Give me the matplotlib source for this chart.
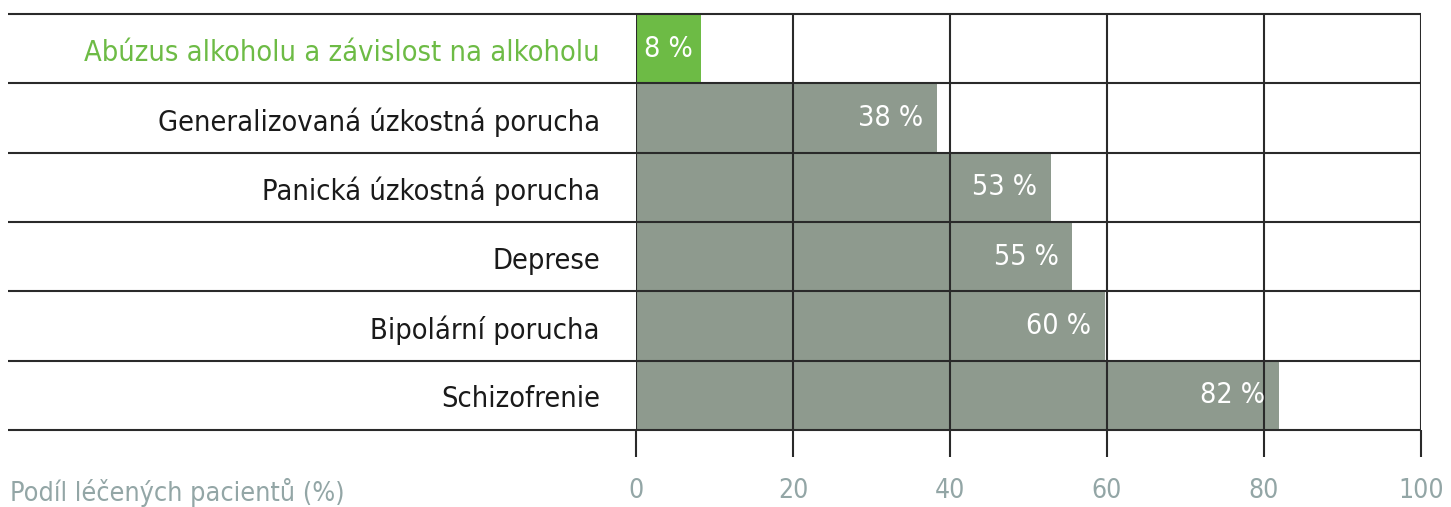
import matplotlib
matplotlib.use("Agg")
import matplotlib.pyplot as plt

categories = ["Abúzus alkoholu a závislost na alkoholu",
              "Generalizovaná úzkostná porucha",
              "Panická úzkostná porucha",
              "Deprese",
              "Bipolární porucha",
              "Schizofrenie"]
values = [8.3, 38.3, 52.9, 55.6, 59.8, 81.9]
value_labels = ["8 %", "38 %", "53 %", "55 %", "60 %", "82 %"]
xticks = [0, 20, 40, 60, 80, 100]
xlabel = "Podíl léčených pacientů (%)"

plt.rcParams['font.family'] = ['DejaVu Sans']
plt.rcParams['font.stretch'] = 'condensed'

W, H = 1451, 507
fig = plt.figure(figsize=(W/100, H/100), dpi=100)
x0, x1, y0, y1 = 636, 1421, 14, 430
ax = fig.add_axes([x0/W, 1-y1/H, (x1-x0)/W, (y1-y0)/H])

green = "#6dbb45"
grey = "#8e9a8e"
tickcol = "#93a6a6"
linecol = "#2a2a2a"

n = len(categories)
ypos = list(range(n))
colors = [green] + [grey]*(n-1)
ax.barh(ypos, values, height=1.0, color=colors, zorder=1)
ax.set_ylim(n-0.5, -0.5)
ax.set_xlim(0, 100)

for t in xticks:
    ax.axvline(t, color=linecol, lw=1.5, zorder=3)
trans = ax.get_yaxis_transform()
xleft = -(x0-8)/(x1-x0)
for k in range(n+1):
    ax.plot([xleft, 1.0], [k-0.5, k-0.5], transform=trans, color=linecol,
            lw=1.5, clip_on=False, zorder=3, solid_capstyle='butt')

for s in ax.spines.values():
    s.set_visible(False)
ax.set_yticks([])
ax.set_xticks(xticks)
ax.set_xticklabels([str(t) for t in xticks], fontsize=19, color=tickcol)
ax.tick_params(axis='x', length=19.5, width=1.5, color=linecol, pad=15, direction='out')

for i, c in enumerate(categories):
    ax.text(-(x0-600)/(x1-x0)*100, i + 0.06, c, ha='right', va='center', fontsize=20.8,
            color=green if i == 0 else "#1a1a1a")

for i, (v, lab) in enumerate(zip(values, value_labels)):
    off = -8 if i == 0 else -14
    ax.annotate(lab, xy=(v, i), xytext=(off*0.72, 0), textcoords='offset points',
                ha='right', va='center', fontsize=20.5, color='white')

fig.text(10/W, 1-492/H, xlabel, ha='left', va='center', fontsize=19.4, color=tickcol)

fig.savefig("out.png", dpi=100, facecolor='white')
